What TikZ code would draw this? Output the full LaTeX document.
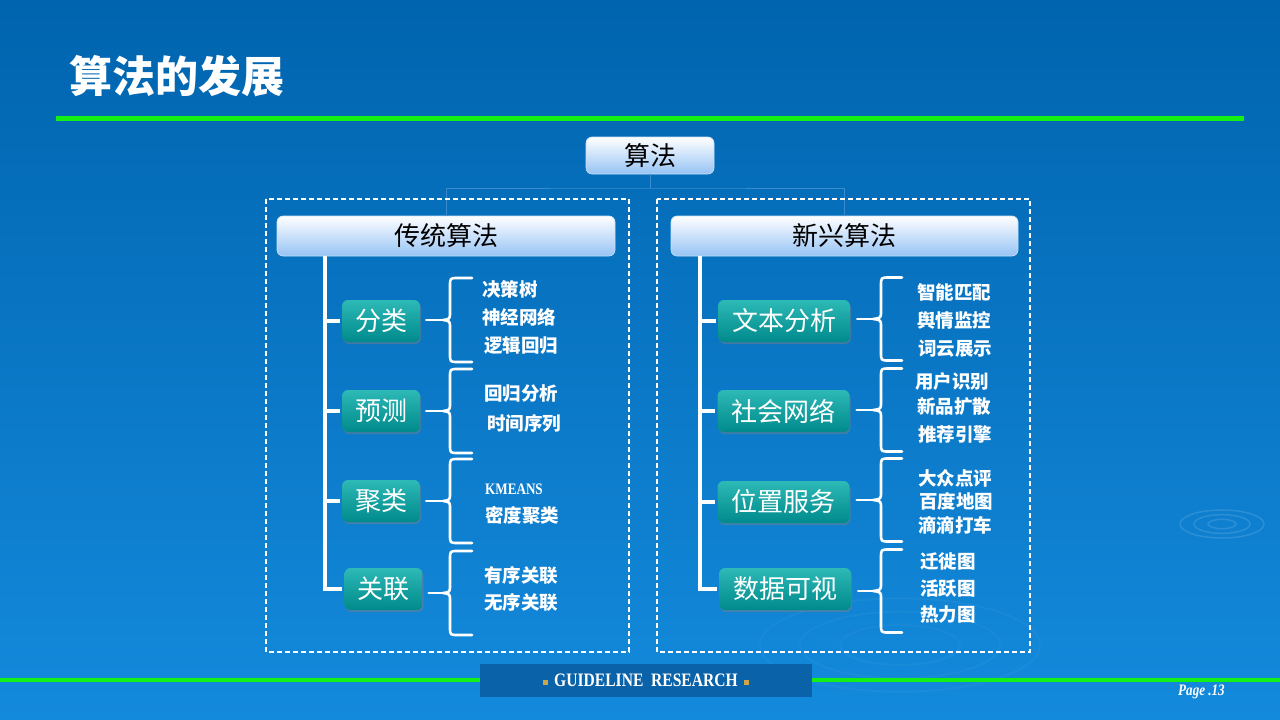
\documentclass[tikz,border=0pt]{standalone}
\usepackage{fontspec}
\newfontfamily\cjk{Noto Sans CJK SC}
\newfontfamily\latc[FakeStretch=0.82]{Liberation Serif}
\usetikzlibrary{shadows}
\definecolor{bgtop}{RGB}{0,100,174}
\definecolor{bgmid}{RGB}{4,114,192}
\definecolor{bgbot}{RGB}{20,138,220}
\definecolor{lime}{RGB}{20,240,20}
\definecolor{hdrblue}{RGB}{150,195,245}
\definecolor{hdredge}{RGB}{200,225,250}
\definecolor{tealtop}{RGB}{45,185,182}
\definecolor{tealbot}{RGB}{0,138,140}
\definecolor{treeblue}{RGB}{60,140,205}
\definecolor{footblue}{RGB}{10,98,168}
\definecolor{gold}{RGB}{205,165,75}

\begin{document}
\begin{tikzpicture}[x=1pt,y=-1pt]
\tikzset{every node/.style={inner sep=0pt}}
\tikzset{hdr/.style={rounded corners=6pt, top color=white, bottom color=hdrblue, draw=hdredge, line width=0.6pt, text=black, font=\cjk\fontsize{26}{26}\selectfont, minimum height=39}}
\tikzset{cat/.style={rounded corners=6pt, top color=tealtop, bottom color=tealbot, drop shadow={shadow xshift=1pt, shadow yshift=-2pt, opacity=0.45}, text=white, font=\cjk\fontsize{26}{26}\selectfont, minimum height=42}}
\tikzset{item/.style={anchor=west, text=white, font=\cjk\bfseries\fontsize{18.5}{18.5}\selectfont}}
\tikzset{tree/.style={draw=treeblue, line width=0.8pt}}
\tikzset{spine/.style={draw=white, line width=3.2pt}}
\tikzset{brc/.style={draw=white, line width=2.6pt, line cap=round, line join=round}}
\tikzset{dashbox/.style={draw=white, line width=1.3pt, dash pattern=on 5pt off 3pt}}

% background
\useasboundingbox (0,0) rectangle (1280,720);
\shade[top color=bgtop, middle color=bgmid, bottom color=bgbot] (0,0) rectangle (1280,720);
\foreach \r in {14,28,42}
  \draw[white, opacity=0.12, line width=1.5pt] (1222,524) ellipse [x radius=\r, y radius=\r/3];
\foreach \r in {60,100,140}
  \draw[white, opacity=0.035, line width=2pt] (900,645) ellipse [x radius=\r, y radius=\r/3];

% title
\node[anchor=west, text=white, font=\cjk\bfseries\fontsize{43}{43}\selectfont] (title) at (69,76) {算法的发展};
\draw[lime, line width=5pt] (56,118) -- (1244,118);

% top of the tree
\node[hdr, minimum width=128, minimum height=37] (suanfa) at (650,155.5) {算法};
\node[hdr, minimum width=338, minimum height=40] (chuantong) at (446,236) {传统算法};
\node[hdr, minimum width=347, minimum height=40] (xinxing) at (844.5,236) {新兴算法};
\coordinate (fork) at (650,188);
\draw[tree] (suanfa.south) -- (fork);
\draw[tree] (chuantong.north) |- (fork) -| (xinxing.north);
\draw[dashbox] (266,199) rectangle (629,652);
\draw[dashbox] (657,199) rectangle (1030,652);

% categories
\foreach \nm/\x/\y/\t in {fenlei/381/321/分类, yuce/381/411/预测, julei/381/501/聚类, guanlian/383.5/589/关联}
  \node[cat, minimum width=78] (\nm) at (\x,\y) {\t};
\foreach \nm/\x/\y/\t in {wenben/784/321/文本分析, shehui/783.5/411/社会网络, weizhi/783.5/502/位置服务, shuju/785/589/数据可视}
  \node[cat, minimum width=132] (\nm) at (\x,\y) {\t};

\coordinate (lspine) at (325,256);
\draw[spine, shorten >=2pt] (lspine) |- (guanlian.west);
\foreach \nm in {fenlei,yuce,julei}
  \draw[spine, shorten >=2pt] (lspine |- \nm.west) -- (\nm.west);
\coordinate (rspine) at (700,256);
\draw[spine, shorten >=2pt] (rspine) |- (shuju.west);
\foreach \nm in {wenben,shehui,weizhi}
  \draw[spine, shorten >=2pt] (rspine |- \nm.west) -- (\nm.west);

% braces
\foreach \nm/\y [count=\i] in {fenlei/320, yuce/411, julei/501, guanlian/593} {
  \coordinate (ltip\i) at (443,\y);
  \draw[brc, shorten <=6pt] (\nm.east |- ltip\i) -- (ltip\i);
  \draw[brc] (472,\y-42) -- (458,\y-42) .. controls (450,\y-42) .. (450,\y-34) -- (450,\y-8)
    .. controls (450,\y-1) .. (ltip\i) .. controls (450,\y+1) .. (450,\y+8) -- (450,\y+34)
    .. controls (450,\y+42) .. (458,\y+42) -- (472,\y+42);
}
\foreach \nm/\y [count=\i] in {wenben/319, shehui/410, weizhi/500, shuju/591} {
  \coordinate (rtip\i) at (873,\y);
  \draw[brc, shorten <=7pt] (\nm.east |- rtip\i) -- (rtip\i);
  \draw[brc] (902,\y-41.5) -- (889,\y-41.5) .. controls (881,\y-41.5) .. (881,\y-33.5) -- (881,\y-8)
    .. controls (881,\y-1) .. (rtip\i) .. controls (881,\y+1) .. (881,\y+8) -- (881,\y+33.5)
    .. controls (881,\y+41.5) .. (889,\y+41.5) -- (902,\y+41.5);
}

% leaves
\foreach \nm/\x/\y/\t in {fl1/482/289/决策树, fl2/482/317/神经网络, fl3/484/346/逻辑回归,
    yc1/484/394/回归分析, yc2/487/423/时间序列, jl2/485/515/密度聚类,
    gl1/484/575/有序关联, gl2/484/602/无序关联}
  \node[item] (\nm) at (\x,\y) {\t};
\node[item, font=\latc\bfseries\fontsize{16}{16}\selectfont] (jl1) at (485,489) {KMEANS};
\foreach \nm/\x/\y/\t in {wb1/917/292/智能匹配, wb2/917/320/舆情监控, wb3/918/349/词云展示,
    sh1/915/381/用户识别, sh2/917/406/新品扩散, sh3/918/434/推荐引擎,
    wz1/918/478/大众点评, wz2/919/501/百度地图, wz3/918/525/滴滴打车,
    sj1/920/562/迁徙图, sj2/920/589/活跃图, sj3/920/614/热力图}
  \node[item] (\nm) at (\x,\y) {\t};

% footer
\draw[lime, line width=4pt] (0,680) -- (1280,680);
\node[fill=footblue, minimum width=332, minimum height=33, text=white, font=\latc\bfseries\fontsize{19}{19}\selectfont] (foot) at (646,680.5)
  {\textcolor{gold}{\raisebox{2pt}{\rule{5pt}{5pt}}}\hspace{6pt}GUIDELINE\ \ RESEARCH\hspace{6pt}\textcolor{gold}{\raisebox{2pt}{\rule{5pt}{5pt}}}};
\node[anchor=east, text=white, font=\latc\bfseries\itshape\fontsize{16}{16}\selectfont] (page) at (1225,692) {Page .13};
\end{tikzpicture}
\end{document}
